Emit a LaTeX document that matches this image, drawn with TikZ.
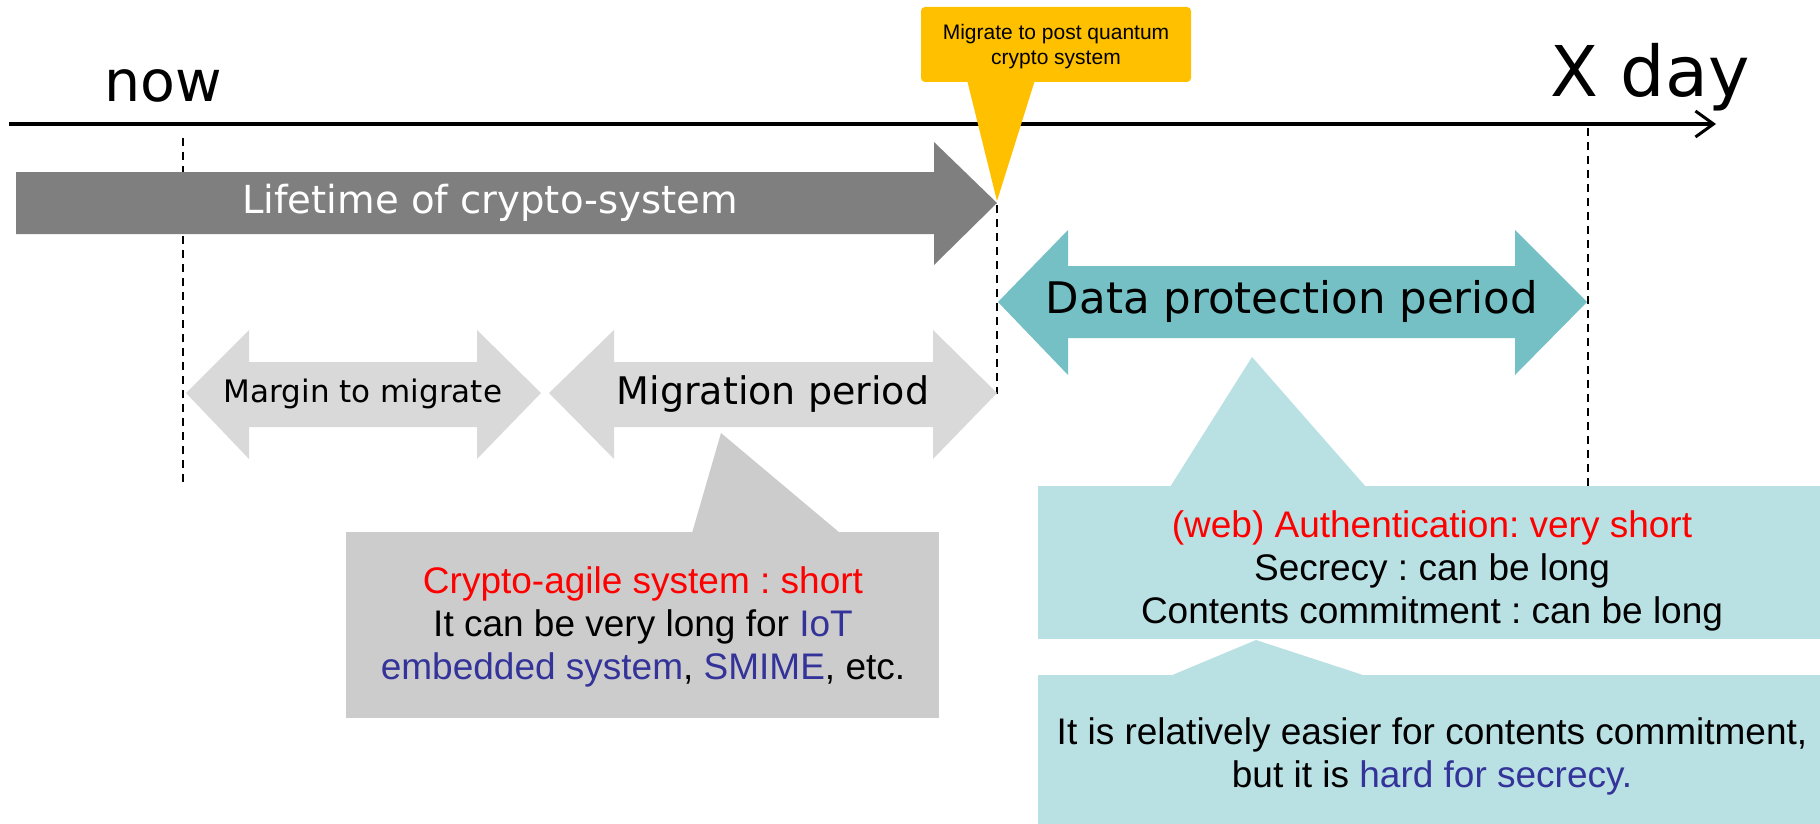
\documentclass[tikz,border=0pt]{standalone}
\usepackage{fontspec}
\setmainfont{Liberation Sans}
\newfontfamily\dv{DejaVu Sans}
\usetikzlibrary{arrows.meta}
\frenchspacing
\definecolor{lifegray}{RGB}{127,127,127}
\definecolor{lightgray2}{RGB}{217,217,217}
\definecolor{callgray}{RGB}{204,204,204}
\definecolor{teal2}{RGB}{116,192,196}
\definecolor{callblue}{RGB}{185,224,227}
\definecolor{yellow2}{RGB}{255,192,0}
\definecolor{red2}{RGB}{255,0,0}
\definecolor{blue2}{RGB}{51,51,153}
\tikzset{
  dashline/.style={line width=1.8pt, dash pattern=on 8pt off 6pt},
  axis/.style={line width=3.5pt, -{Straight Barb[length=18pt,width=26pt,line width=3pt]}},
  lbl/.style={inner sep=0pt, outer sep=0pt},
  calltext/.style={inner sep=0pt, align=center, font=\frenchspacing\fontsize{37}{43}\selectfont},
}
\begin{document}
\begin{tikzpicture}[x=1pt,y=-1pt]
\useasboundingbox (0,0) rectangle (1820,824);
% coordinates
\coordinate (axA) at (9,124);
\coordinate (axB) at (1716,124);
\coordinate (d1a) at (183,138); \coordinate (d1b) at (183,482);
\coordinate (d2a) at (997,205); \coordinate (d2b) at (997,394);
\coordinate (d3a) at (1588,128); \coordinate (d3b) at (1588,486);
% timeline
\draw[axis] (axA) -- (axB);
% dashed guides
\draw[dashline] (d1a) -- (d1b);
\draw[dashline] (d2a) -- (d2b);
\draw[dashline] (d3a) -- (d3b);
% lifetime arrow
\fill[lifegray] (16,172) -- (934,172) -- (934,142) -- (997,203) -- (934,265) -- (934,234) -- (16,234) -- cycle;
% yellow callout
\fill[yellow2, rounded corners=4pt] (921,7) rectangle (1191,82);
\fill[yellow2] (967,80) -- (997,201) -- (1035,80) -- cycle;
% data protection double arrow
\fill[teal2] (998,302) -- (1068,230) -- (1068,266) -- (1515,266) -- (1515,230) -- (1587,302) -- (1515,375) -- (1515,338) -- (1068,338) -- (1068,375) -- cycle;
% margin arrow
\fill[lightgray2] (186,393) -- (249,330) -- (249,362) -- (477,362) -- (477,330) -- (541,393) -- (477,459) -- (477,427) -- (249,427) -- (249,459) -- cycle;
% migration arrow
\fill[lightgray2] (549,393) -- (614,330) -- (614,362) -- (933,362) -- (933,330) -- (997,393) -- (933,459) -- (933,427) -- (614,427) -- (614,459) -- cycle;
% gray callout
\fill[callgray] (346,532) rectangle (939,718);
\fill[callgray] (692,533) -- (721,433) -- (840,533) -- cycle;
% blue callouts
\fill[callblue] (1038,486) rectangle (1820,639);
\fill[callblue] (1170,487) -- (1252,357) -- (1366,487) -- cycle;
\fill[callblue] (1038,675) rectangle (1820,824);
\fill[callblue] (1170,676) -- (1256,640) -- (1366,676) -- cycle;
% texts
\node[lbl, anchor=base, font=\dv\fontsize{57}{60}\selectfont] (now) at (163,102) {now};
\node[lbl, anchor=base, font=\dv\fontsize{70}{74}\selectfont] (xday) at (1650,97) {X day};
\node[lbl, anchor=base, text=white, font=\dv\fontsize{38.6}{42}\selectfont] (life) at (490,213) {Lifetime of crypto-system};
\node[lbl, anchor=base, font=\dv\fontsize{43.5}{46}\selectfont] (dpp) at (1292,313) {Data protection period};
\node[lbl, anchor=base, font=\dv\fontsize{31}{34}\selectfont] (mtm) at (363,402) {Margin to migrate};
\node[lbl, anchor=base, font=\dv\fontsize{38}{42}\selectfont] (mig) at (773,404) {Migration period};
\node[lbl, align=center, font=\fontsize{21}{25}\selectfont] (pq) at (1056,47) {Migrate to post quantum\\crypto system};
\node[calltext] (agile) at (643,627) {\textcolor{red2}{Crypto-agile system : short}\\It can be very long for \textcolor{blue2}{IoT}\\\textcolor{blue2}{embedded system}, \textcolor{blue2}{SMIME}, etc.};
\node[calltext] (auth) at (1432,571) {\textcolor{red2}{(web) Authentication: very short}\\Secrecy : can be long\\Contents commitment : can be long};
\node[calltext] (hard) at (1432,756) {It is relatively easier for contents commitment,\\but it is \textcolor{blue2}{hard for secrecy.}};
\end{tikzpicture}
\end{document}
